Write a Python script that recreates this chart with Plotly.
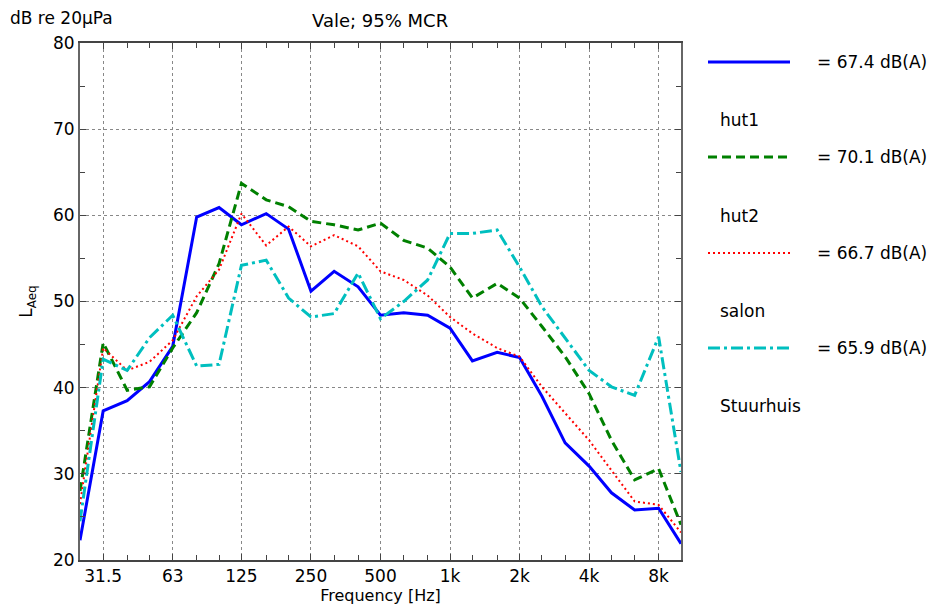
import plotly.graph_objects as go

freqs = [25, 31.5, 40, 50, 63, 80, 100, 125, 160, 200, 250, 315, 400, 500, 630, 800,
         1000, 1250, 1600, 2000, 2500, 3150, 4000, 5000, 6300, 8000, 10000]

hut1 = [22.3, 37.3, 38.5, 40.7, 44.8, 59.8, 60.9, 58.9, 60.2, 58.4, 51.2, 53.5, 51.7, 48.4,
        48.7, 48.4, 46.9, 43.1, 44.1, 43.5, 39.0, 33.6, 30.9, 27.8, 25.8, 26.0, 21.9]
hut2 = [28.0, 45.2, 39.7, 40.1, 44.6, 48.7, 54.4, 63.7, 61.8, 61.0, 59.3, 58.9, 58.3, 59.1,
        57.1, 56.2, 54.0, 50.4, 52.1, 50.4, 47.1, 43.6, 39.3, 33.9, 29.3, 30.6, 24.1]
salon = [26.5, 44.6, 42.0, 43.0, 45.5, 50.6, 53.7, 60.2, 56.5, 58.7, 56.4, 57.7, 56.4, 53.5,
         52.5, 50.7, 48.2, 46.3, 44.6, 43.6, 40.1, 37.0, 33.9, 30.4, 26.8, 26.4, 23.2]
stuurhuis = [24.5, 43.3, 42.0, 45.8, 48.4, 42.5, 42.7, 54.2, 54.8, 50.4, 48.2, 48.6, 53.3, 48.0,
             50.0, 52.5, 57.9, 57.9, 58.3, 54.0, 49.4, 45.7, 42.0, 40.1, 39.1, 45.9, 30.2]

names = ["hut1", "hut2", "salon", "Stuurhuis"]
totals = ["67.4", "70.1", "66.7", "65.9"]
colors = ["#0000FF", "#008000", "#FF0000", "#00BFBF"]
dashes = ["solid", "9px,5px", "2px,3px", "12px,4px,3px,4px"]
widths = [3, 3, 2, 3]
series = [hut1, hut2, salon, stuurhuis]

tick_vals = [31.5, 63, 125, 250, 500, 1000, 2000, 4000, 8000]
tick_text = ["31.5", "63", "125", "250", "500", "1k", "2k", "4k", "8k"]

FONT = "DejaVu Sans, Liberation Sans, Arial, sans-serif"

fig = go.Figure()
for name, ys, c, d, w in zip(names, series, colors, dashes, widths):
    fig.add_trace(go.Scatter(x=freqs, y=ys, mode="lines", name=name,
                             line=dict(color=c, dash=d, width=w), showlegend=False))

L, R, T, B = 80, 248, 43, 47
W, H = 929, 607
pw, ph = W - L - R, H - T - B

def px(xp):
    return (xp - L) / pw

def py(yp):
    return (H - B - yp) / ph

# custom legend
legend_line_y = [62, 157, 253, 348]
legend_name_y = [120, 216, 311, 406]
for i in range(4):
    fig.add_shape(type="line", xref="paper", yref="paper",
                  x0=px(708), x1=px(790), y0=py(legend_line_y[i]), y1=py(legend_line_y[i]),
                  line=dict(color=colors[i], dash=dashes[i], width=widths[i]))
    fig.add_annotation(xref="paper", yref="paper", x=px(815), y=py(legend_line_y[i]),
                       text="= " + totals[i] + " dB(A)", showarrow=False,
                       xanchor="left", yanchor="middle", font=dict(size=17, color="black"))
    fig.add_annotation(xref="paper", yref="paper", x=px(718), y=py(legend_name_y[i]),
                       text=names[i], showarrow=False,
                       xanchor="left", yanchor="middle", font=dict(size=17, color="black"))

fig.add_annotation(xref="paper", yref="paper", x=px(380), y=py(20), text="Vale; 95% MCR",
                   showarrow=False, xanchor="center", yanchor="middle", font=dict(size=18))
fig.add_annotation(xref="paper", yref="paper", x=px(8), y=py(18), text="dB re 20\u03bcPa",
                   showarrow=False, xanchor="left", yanchor="middle", font=dict(size=17))

fig.update_layout(
    width=W, height=H,
    margin=dict(l=L, r=R, t=T, b=B),
    paper_bgcolor="white", plot_bgcolor="white",
    font=dict(family=FONT, size=17, color="black"),
    xaxis=dict(type="log", range=[1.39794, 4.0], tickvals=tick_vals, ticktext=tick_text,
               automargin=False,
               showgrid=True, gridcolor="#888", griddash="dot", gridwidth=1,
               ticks="inside", ticklen=6, tickcolor="#444", mirror="ticks",
               showline=True, linecolor="#444", linewidth=1.5,
               minor=dict(tickmode="array", tickvals=freqs, ticks="inside", ticklen=5,
                          tickcolor="#444", showgrid=False),
               title=dict(text="Frequency [Hz]", standoff=2, font=dict(size=16)),
               zeroline=False, tickfont=dict(size=17)),
    yaxis=dict(range=[20, 80], dtick=10, tick0=20, automargin=False,
               showgrid=True, gridcolor="#888", griddash="dot", gridwidth=1,
               ticks="inside", ticklen=6, tickcolor="#444", mirror="ticks",
               showline=True, linecolor="#666", linewidth=2,
               minor=dict(dtick=5, ticks="inside", ticklen=5, tickcolor="#444", showgrid=False),
               title=dict(text="L<sub>Aeq</sub>", standoff=16, font=dict(size=17)),
               zeroline=False, tickfont=dict(size=17)),
)

fig.write_html("out.html", config={"displayModeBar": False},
               post_script="document.body.style.margin='0';document.body.style.overflow='hidden';")
